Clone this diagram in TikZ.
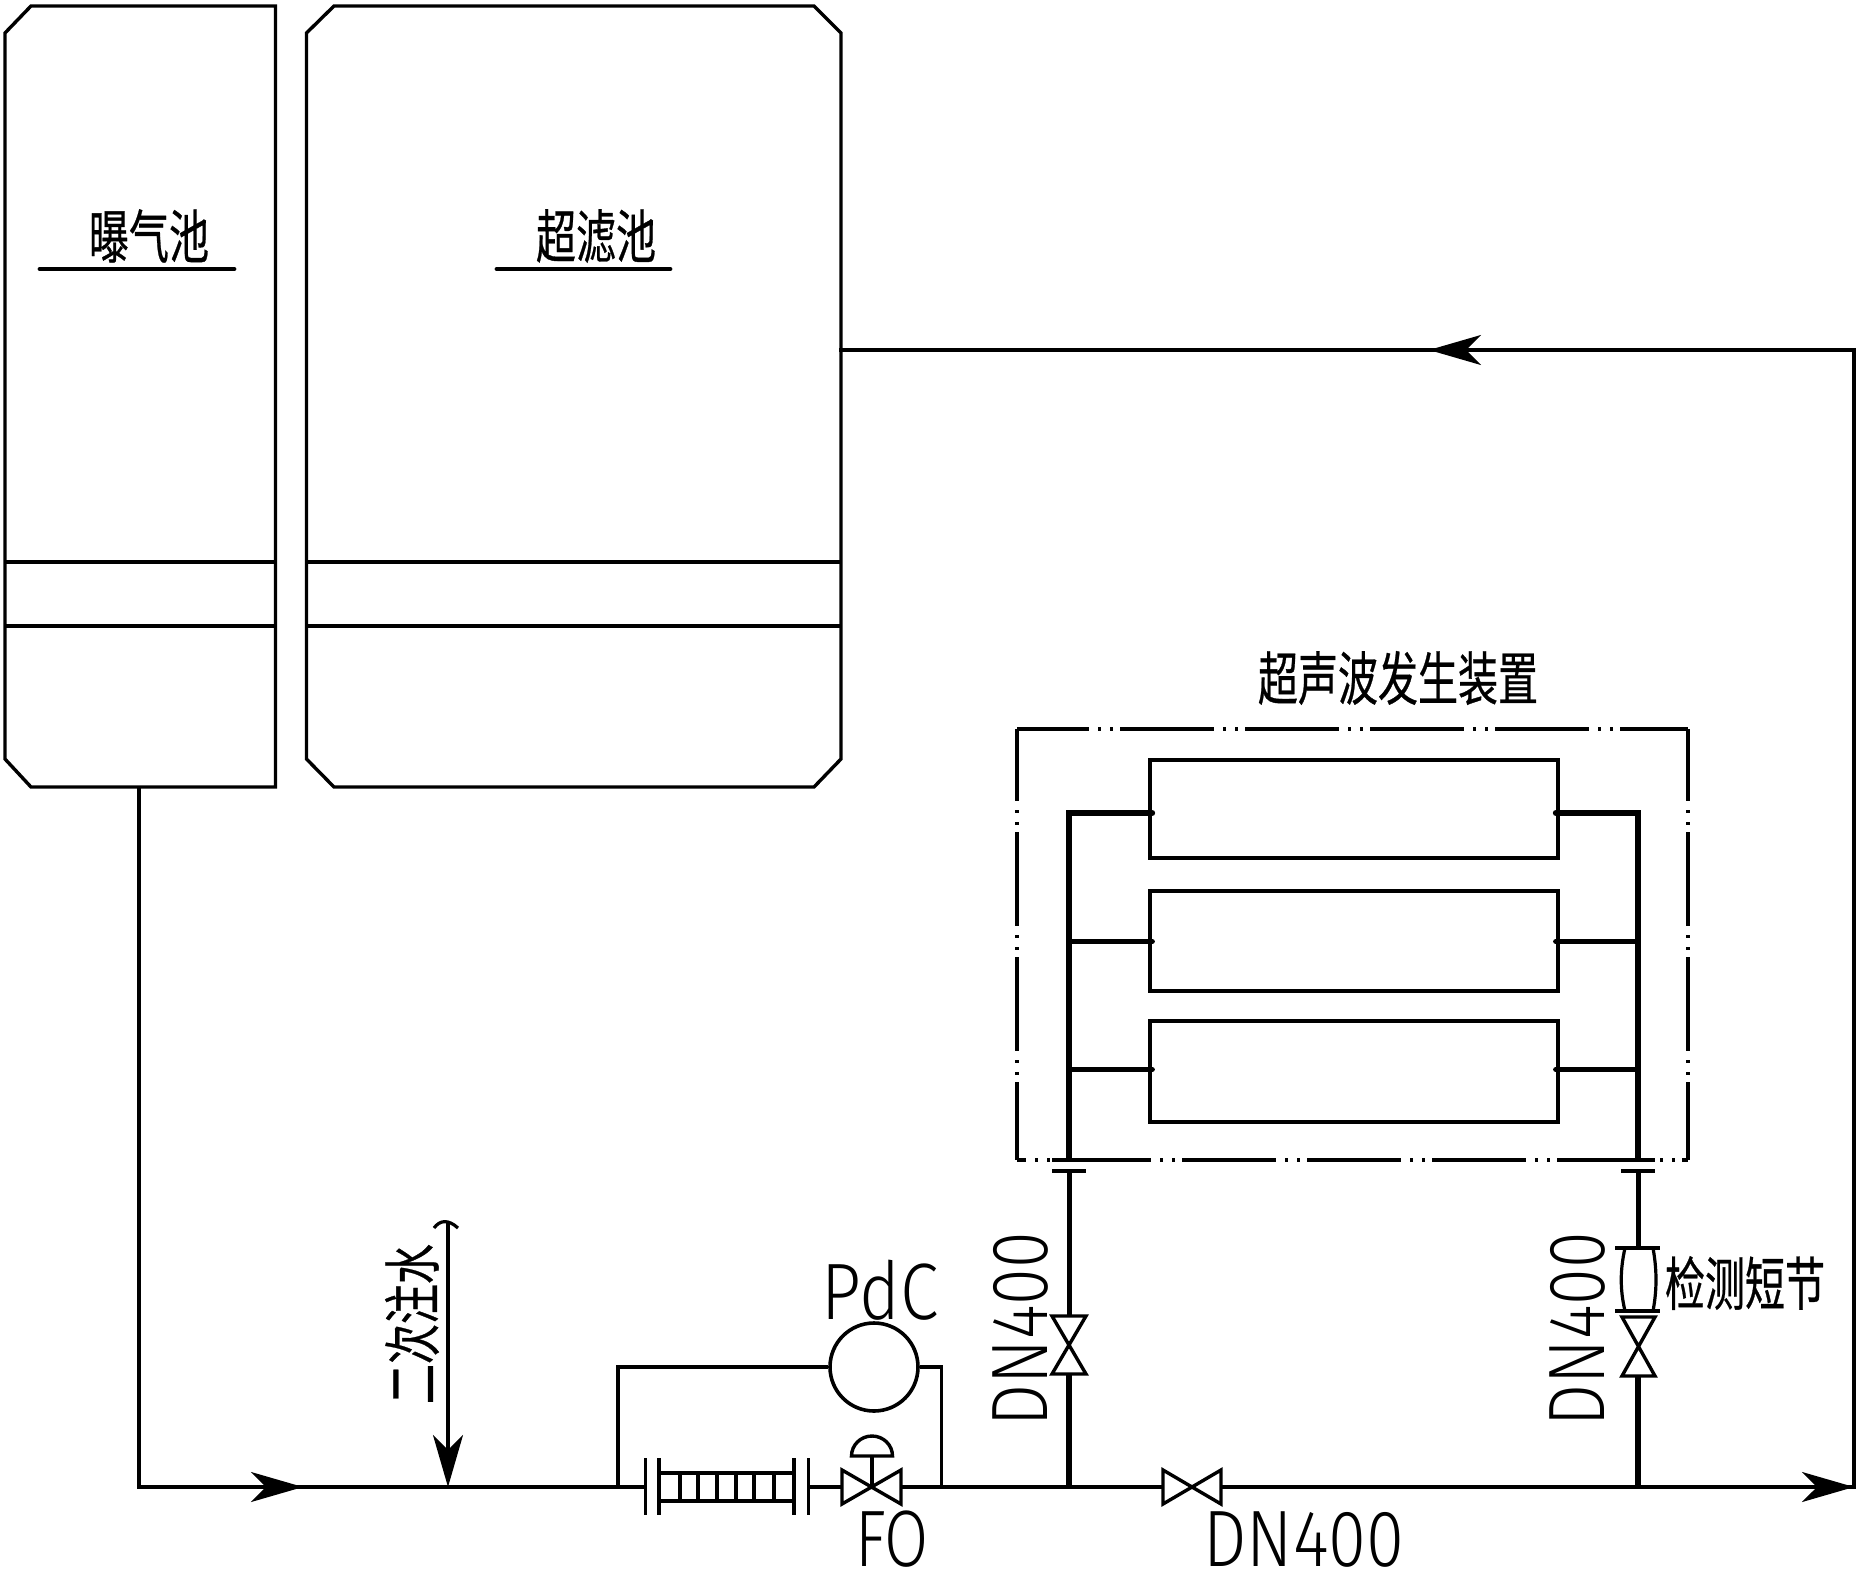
\documentclass[tikz,border=0pt]{standalone}
\usepackage{fontspec}
\usepackage{graphicx}
\usetikzlibrary{arrows.meta}
\setmainfont{Fira Sans Light}
\newfontfamily\cjkf[FakeBold=0.6]{Noto Sans CJK SC}
\newcommand{\cjklabel}[1]{\scalebox{0.69}[1]{\fontsize{29pt}{29pt}\selectfont\cjkf #1}}
\newcommand{\latlabel}[2]{\scalebox{#1}[1]{\fontsize{40pt}{40pt}\selectfont #2}}
\tikzset{
  x=0.5pt,y=-0.5pt,
  thin line/.style={draw=black,line width=1.6pt,line join=miter},
  tank/.style={draw=black,line width=1.7pt,line join=miter},
  main/.style={draw=black,line width=1.9pt},
  bus/.style={draw=black,line width=2.9pt},
  branch/.style={draw=black,line width=2.9pt,line cap=round},
  rule/.style={draw=black,line width=2.4pt,line cap=round},
  module/.style={draw=black,line width=1.6pt,minimum width=204pt,inner sep=0pt,rectangle},
  envelope/.style={draw=black,line width=1.6pt,dash pattern=on 47pt off 4.5pt on 1.5pt off 4.5pt on 1.5pt off 3.5pt},
  flow/.style={-{Stealth[length=26pt,width=15pt,inset=7.5pt]}},
  txt/.style={inner sep=0pt,anchor=center,text=black},
  valve/.style={draw=black,line width=1.7pt,line join=miter},
}
\begin{document}
\begin{tikzpicture}
\useasboundingbox (0,0) rectangle (1859,1585);

% ---- tanks
\draw[tank] (31,6) -- (275.5,6) -- (275.5,787) -- (31,787) -- (5,759) -- (5,33) -- cycle;
\draw[tank] (5,562) -- (275.5,562) (5,626) -- (275.5,626);
\draw[tank] (334,6) -- (814,6) -- (841,33) -- (841,759) -- (814,787) -- (334,787) -- (306.5,759) -- (306.5,33) -- cycle;
\draw[tank] (306.5,562) -- (841,562) (306.5,626) -- (841,626);

\node[txt] (aer) at (149,236) {\cjklabel{曝气池}};
\node[txt] (uf)  at (596,236) {\cjklabel{超滤池}};
\draw[rule] (40,269) -- (234,269);
\draw[rule] (497,269) -- (670,269);

% ---- junction coordinates
\coordinate (ctank) at (139,787);
\coordinate (c0) at (139,1487);
\coordinate (a1) at (303,1487);
\coordinate (jin) at (448,1487);
\coordinate (jtap) at (618,1487);
\coordinate (fl1) at (645.5,1487);
\coordinate (fl4) at (808.5,1487);
\coordinate (cvl) at (842,1487);
\coordinate (cvc) at (872,1487);
\coordinate (cvr) at (901,1487);
\coordinate (jtap2) at (941.5,1487);
\coordinate (jl) at (1069,1487);
\coordinate (vbl) at (1163,1487);
\coordinate (vbr) at (1221,1487);
\coordinate (jr) at (1638,1487);
\coordinate (a2) at (1854,1487);
\coordinate (cr) at (1854,350);
\coordinate (a3) at (1429,350);
\coordinate (ct2) at (841,350);

% ---- main lines
\draw[thin line] (ctank) -- (c0);
\draw[main,line cap=rect] (c0) -- (fl1);
\draw[main] (fl4) -- (cvl);
\draw[main] (cvr) -- (vbl);
\draw[main] (vbr) -- (a2);
\draw[thin line,line cap=rect] (a2) -- (cr) -- (ct2);
\draw[thin line,flow] (c0) -- (a1);
\draw[thin line,flow] (jr) -- (a2);
\draw[thin line,flow] (cr) -- (a3);

% ---- secondary water injection
\coordinate (itop) at (448,1221);
\draw[thin line,flow] (itop) -- (jin);
\draw[thin line] (434,1228) .. controls (440,1220) and (448,1219) .. (458,1228);
\node[txt,rotate=90] (inj) at (412,1324) {\cjklabel{二次注水}};

% ---- strainer
\draw[thin line] (645.5,1458) -- (645.5,1515);
\draw[tank] (659,1458) -- (659,1515);
\draw[tank] (794,1458) -- (794,1515);
\draw[thin line] (808.5,1458) -- (808.5,1515);
\draw[main] (659,1473) -- (794,1473) (659,1501) -- (794,1501);
\foreach \tx in {680,698,717,736,754,774} \draw[tank] (\tx,1473) -- (\tx,1501);

% ---- control valve
\draw[valve] (842,1470) -- (901,1504) -- (901,1470) -- (842,1504) -- cycle;
\draw[thin line] (cvc) -- (872,1456);
\draw[valve] (851.5,1456) -- (892.5,1456) arc[start angle=0,end angle=180,x radius=10.25pt,y radius=10pt] -- cycle;

% ---- PdC
\node[circle,draw=black,line width=1.8pt,minimum size=44pt,inner sep=0pt] (pdc) at (874,1367) {};
\draw[main] (pdc.west) -- (jtap |- pdc.west) -- (jtap);
\draw[thin line] (pdc.east) -- (jtap2 |- pdc.east) -- (jtap2);
\node[txt] (pdct) at (880,1290) {\latlabel{0.87}{PdC}};
\node[txt] (fo) at (892,1539) {\latlabel{0.8}{FO}};

% ---- bypass valve
\draw[valve] (1163,1470) -- (1221,1504) -- (1221,1470) -- (1163,1504) -- cycle;
\node[txt] (dnb) at (1304,1540) {\latlabel{0.86}{DN400}};

% ---- ultrasonic unit
\node[txt] (us) at (1398,678) {\cjklabel{超声波发生装置}};
\coordinate (tl) at (1017,729);
\coordinate (tr) at (1688,729);
\coordinate (bl) at (1017,1160);
\coordinate (br) at (1688,1160);
\draw[envelope,dash phase=11pt] (tl) -- (tr);
\draw[envelope,dash phase=11pt] (tl) -- (bl);
\draw[envelope,dash phase=11pt] (tr) -- (br);
\draw[envelope,dash phase=42.5pt] (bl) -- (br);

\node[module,minimum height=49pt] (m1) at (1354,809) {};
\node[module,minimum height=50pt] (m2) at (1354,941) {};
\node[module,minimum height=50.5pt] (m3) at (1354,1071.5) {};

\coordinate (bltop) at (1069,813);
\coordinate (brtop) at (1638,813);
\draw[bus,line width=3.2pt,line join=miter] (m1.west |- bltop) -- (bltop) -- (1069,1160);
\draw[bus,line width=3.2pt,line join=miter] (m1.east |- brtop) -- (brtop) -- (1638,1160);
\draw[branch,line width=3.2pt] (1150,813) -- (1152,813);
\draw[branch,line width=3.2pt] (1556,813) -- (1558,813);
\draw[branch] (1069,941.5) -- (1152,941.5);
\draw[branch] (1069,1069.5) -- (1152,1069.5);
\draw[branch] (1556,941.5) -- (1638,941.5);
\draw[branch] (1556,1069.5) -- (1638,1069.5);

% flanges below unit
\foreach \fx in {1069,1638} {
  \draw[main,line width=2pt] (\fx-17,1160) -- (\fx+17,1160);
  \draw[main,line width=2pt] (\fx-17,1171) -- (\fx+17,1171);
}

% left riser
\draw[bus,line width=2.5pt] (1069,1171) -- (1069,1316);
\draw[valve] (1052,1316) -- (1086,1374) -- (1052,1374) -- (1086,1316) -- cycle;
\draw[bus] (1069,1374) -- (jl);
\node[txt,rotate=90] (dnl) at (1021,1329) {\latlabel{0.83}{DN400}};

% right riser
\draw[bus,line width=2.5pt] (1638,1171) -- (1638,1248);
\draw[main,line width=2pt] (1615,1248) -- (1660,1248);
\draw[main,line width=2pt] (1615,1311) -- (1660,1311);
\draw[thin line] (1625,1248) .. controls (1620,1270) and (1620,1290) .. (1625,1311);
\draw[thin line] (1653,1248) .. controls (1657,1270) and (1657,1290) .. (1653,1311);
\draw[valve] (1622,1317) -- (1655,1376) -- (1622,1376) -- (1655,1317) -- cycle;
\draw[bus] (1638,1376) -- (jr);
\node[txt,rotate=90] (dnr) at (1577.5,1329) {\latlabel{0.83}{DN400}};
\node[txt] (sect) at (1745,1283) {\cjklabel{检测短节}};
\end{tikzpicture}
\end{document}
